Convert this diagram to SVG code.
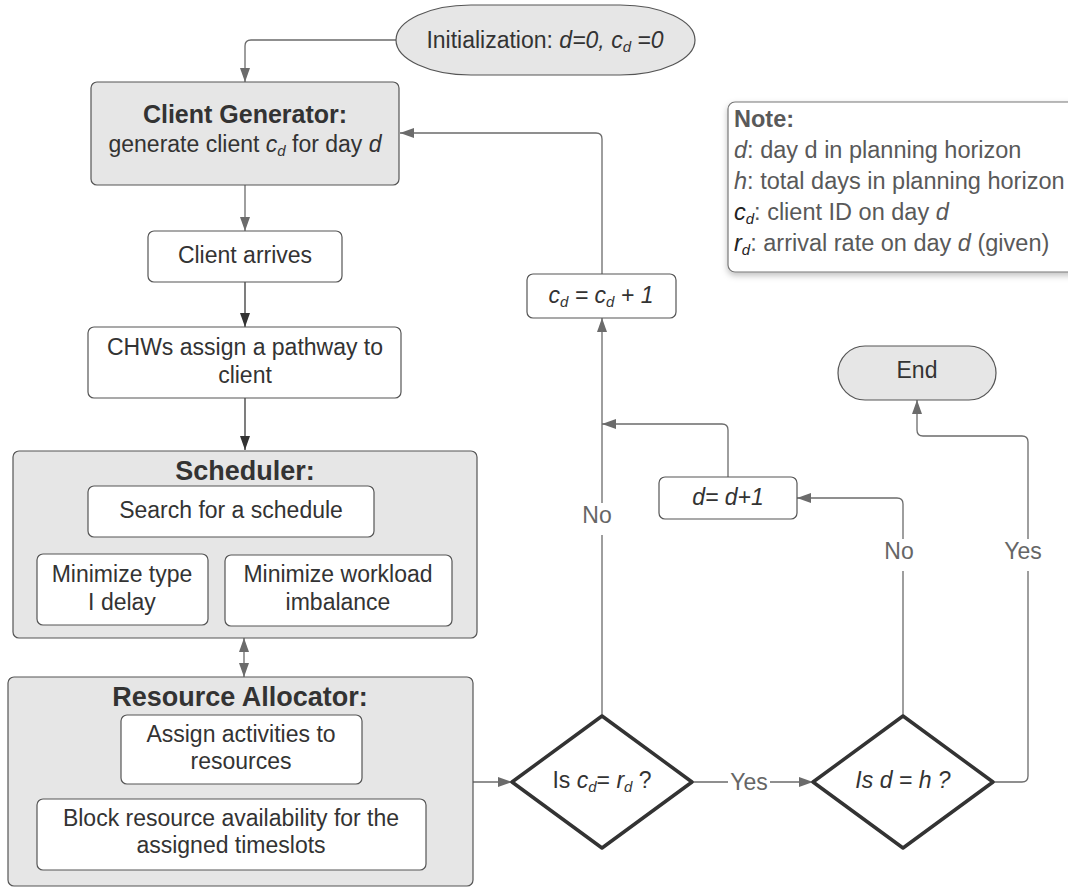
<svg xmlns="http://www.w3.org/2000/svg" width="1068" height="888" viewBox="0 0 1068 888">
<style>
text{font-family:"Liberation Sans",Arial,sans-serif;font-size:23px;fill:#333}
.t{text-anchor:middle}
.b{font-weight:bold;font-size:25px}
.bb{font-weight:bold;font-size:27px}
.i{font-style:italic}
.sub{font-size:15px;font-style:italic}
.lbl{fill:#666;text-anchor:middle}
.note{fill:#595959;font-size:23.5px}
.gray{fill:#e6e6e6;stroke:#555;stroke-width:1.2}
.white{fill:#fff;stroke:#555;stroke-width:1.2}
.dia{fill:#fff;stroke:#333;stroke-width:3.5;stroke-linejoin:round}
.c{fill:none;stroke:#6b6b6b;stroke-width:1.3}
.cd{fill:none;stroke:#3a3a3a;stroke-width:1.3}
</style>
<defs>
<marker id="ah" viewBox="0 0 14 10" refX="14" refY="5" markerWidth="14" markerHeight="10" markerUnits="userSpaceOnUse" orient="auto-start-reverse"><path d="M0,0 L14,5 L0,10 z" fill="#6b6b6b"/></marker>
<marker id="ahd" viewBox="0 0 14 10" refX="14" refY="5" markerWidth="14" markerHeight="10" markerUnits="userSpaceOnUse" orient="auto"><path d="M0,0 L14,5 L0,10 z" fill="#333"/></marker>
<filter id="sh" x="-10%" y="-10%" width="130%" height="140%"><feDropShadow dx="0" dy="3" stdDeviation="3" flood-color="#000" flood-opacity="0.25"/></filter>
</defs>

<g id="connectors">
<path class="c" d="M396,40 H251 Q245,40 245,46 V82" marker-end="url(#ah)"/>
<path class="c" d="M245,185 V231" marker-end="url(#ah)"/>
<path class="cd" d="M245,282 V327" marker-end="url(#ahd)"/>
<path class="cd" d="M245,398 V450" marker-end="url(#ahd)"/>
<path class="c" d="M244,638 V677" marker-start="url(#ah)" marker-end="url(#ah)"/>
<path class="c" d="M244,677 V715"/>
<path class="c" d="M473,782 H512" marker-end="url(#ah)"/>
<path class="c" d="M692,782 H728 M770,782 H813" marker-end="url(#ah)"/>
<path class="c" d="M602,716 V535 M602,503 V318" marker-end="url(#ah)"/>
<path class="c" d="M602,274 V139 Q602,133 596,133 H400" marker-end="url(#ah)"/>
<path class="c" d="M728,477 V430 Q728,424 722,424 H602" marker-end="url(#ah)"/>
<path class="c" d="M903,716 V571 M903,539 V504 Q903,498 897,498 H797" marker-end="url(#ah)"/>
<path class="c" d="M993,782 H1022 Q1028,782 1028,776 V571 M1028,539 V442 Q1028,436 1022,436 H923 Q917,436 917,430 V400" marker-end="url(#ah)"/>
<text class="lbl" x="749" y="790">Yes</text>
<text class="lbl" x="597" y="523">No</text>
<text class="lbl" x="899" y="559">No</text>
<text class="lbl" x="1023" y="559">Yes</text>
</g>

<g id="init">
<rect class="gray" x="396" y="5" width="299" height="70" rx="75" ry="35"/>
<text class="t" x="545" y="48">Initialization: <tspan class="i">d=0, c</tspan><tspan class="sub" dy="4">d</tspan><tspan class="i" dy="-4"> =0</tspan></text>
</g>

<g id="client-generator">
<rect class="gray" x="91" y="82" width="308" height="103" rx="6"/>
<text class="t b" x="245" y="123">Client Generator:</text>
<text class="t" x="245" y="152">generate client <tspan class="i">c</tspan><tspan class="sub" dy="4">d</tspan><tspan dy="-4"> for day </tspan><tspan class="i">d</tspan></text>
</g>

<g id="client-arrives">
<rect class="white" x="148" y="231" width="194" height="51" rx="6"/>
<text class="t" x="245" y="263">Client arrives</text>
</g>

<g id="chws">
<rect class="white" x="88" y="327" width="313" height="71" rx="6"/>
<text class="t" x="245" y="355">CHWs assign a pathway to</text>
<text class="t" x="245" y="383">client</text>
</g>

<g id="scheduler">
<rect class="gray" x="13" y="451" width="464" height="187" rx="6"/>
<text class="t bb" x="245" y="480">Scheduler:</text>
<rect class="white" x="88" y="486" width="286" height="51" rx="6"/>
<text class="t" x="231" y="518">Search for a schedule</text>
<rect class="white" x="37" y="554" width="171" height="71" rx="6"/>
<text class="t" x="122" y="582">Minimize type</text>
<text class="t" x="122" y="610">I delay</text>
<rect class="white" x="225" y="555" width="227" height="71" rx="6"/>
<text class="t" x="338" y="582">Minimize workload</text>
<text class="t" x="338" y="610">imbalance</text>
</g>

<g id="resource-allocator">
<rect class="gray" x="8" y="677" width="465" height="209" rx="6"/>
<text class="t bb" x="240" y="706">Resource Allocator:</text>
<rect class="white" x="121" y="715" width="241" height="69" rx="6"/>
<text class="t" x="241" y="742">Assign activities to</text>
<text class="t" x="241" y="769">resources</text>
<rect class="white" x="37" y="799" width="389" height="71" rx="6"/>
<text class="t" x="231" y="826">Block resource availability for the</text>
<text class="t" x="231" y="853">assigned timeslots</text>
</g>

<g id="decision-cd">
<path class="dia" d="M602,716 L692,782 L602,848 L512,782 Z"/>
<text class="t" x="602" y="788">Is <tspan class="i">c</tspan><tspan class="sub" dy="4">d</tspan><tspan dy="-4">= </tspan><tspan class="i">r</tspan><tspan class="sub" dy="4">d</tspan><tspan dy="-4"> ?</tspan></text>
</g>

<g id="decision-d">
<path class="dia" d="M903,716 L993,782 L903,848 L813,782 Z"/>
<text class="t i" x="903" y="788">Is d = h ?</text>
</g>

<g id="cd-increment">
<rect class="white" x="527" y="274" width="149" height="44" rx="6"/>
<text class="t i" x="601" y="303">c<tspan class="sub" dy="4">d</tspan><tspan dy="-4"> = c</tspan><tspan class="sub" dy="4">d</tspan><tspan dy="-4"> + 1</tspan></text>
</g>

<g id="d-increment">
<rect class="white" x="659" y="477" width="138" height="42" rx="6"/>
<text class="t i" x="728" y="505">d= d+1</text>
</g>

<g id="end">
<rect class="gray" x="838" y="346" width="158" height="54" rx="27"/>
<text class="t" x="917" y="378">End</text>
</g>

<g id="note">
<rect x="728" y="102" width="360" height="170" rx="7" fill="#fff" stroke="#777" stroke-width="1.2" filter="url(#sh)"/>
<text class="note" x="734" y="127" font-weight="bold">Note:</text>
<text class="note" x="734" y="158"><tspan class="i">d</tspan>: day d in planning horizon</text>
<text class="note" x="734" y="189"><tspan class="i">h</tspan>: total days in planning horizon</text>
<text class="note" x="734" y="220"><tspan class="i" fill="#222">c</tspan><tspan class="sub" dy="4" fill="#222">d</tspan><tspan dy="-4">: client ID on day </tspan><tspan class="i">d</tspan></text>
<text class="note" x="734" y="251"><tspan class="i" fill="#222">r</tspan><tspan class="sub" dy="4" fill="#222">d</tspan><tspan dy="-4">: arrival rate on day </tspan><tspan class="i">d</tspan> (given)</text>
</g>
</svg>
